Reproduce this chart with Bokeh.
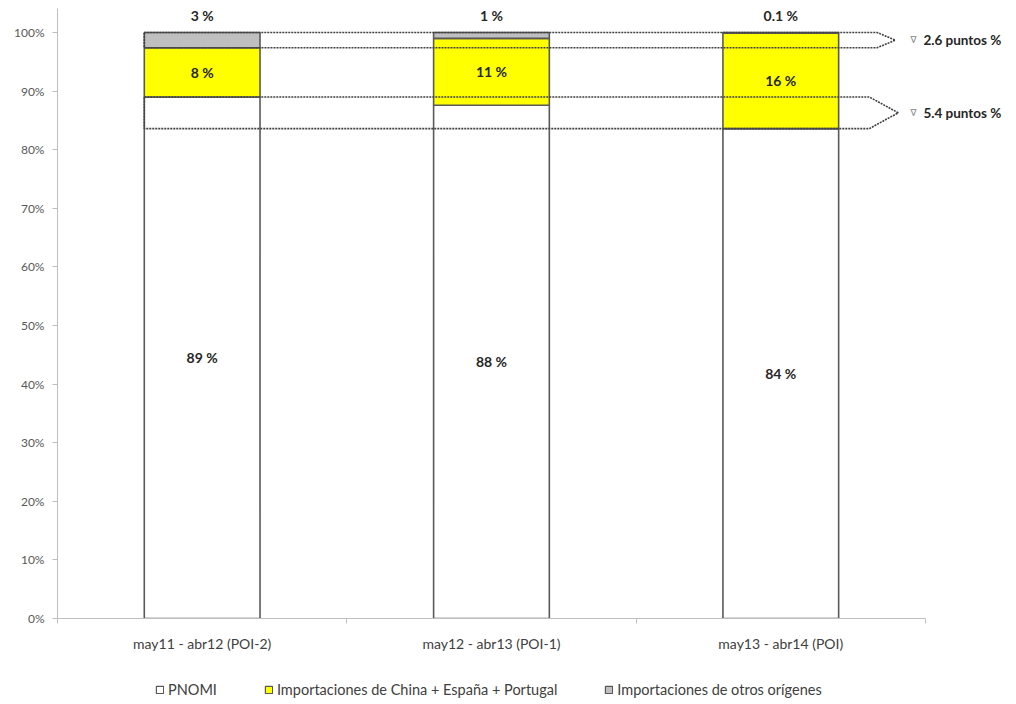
from bokeh.plotting import figure
from bokeh.layouts import column
from bokeh.models import (FixedTicker, Legend, LegendItem, ColumnDataSource, Range1d)
from bokeh.core.properties import value
from bokeh.embed import file_html
from bokeh.resources import INLINE

# ---- data ----
periods = ["may11 - abr12 (POI-2)", "may12 - abr13 (POI-1)", "may13 - abr14 (POI)"]
pnomi = [89.0, 87.6, 83.6]
china = [8.4, 11.4, 16.3]
otros = [2.6, 1.0, 0.1]
pnomi_labels = ["89 %", "88 %", "84 %"]
china_labels = ["8 %", "11 %", "16 %"]
otros_labels = ["3 %", "1 %", "0.1 %"]
series_names = ["PNOMI", "Importaciones de China + España + Portugal",
                "Importaciones de otros orígenes"]
series_colors = ["#FFFFFF", "#FFFF00", "#BFBFBF"]
y_ticks = [0, 10, 20, 30, 40, 50, 60, 70, 80, 90, 100]
y_tick_labels = ["0%", "10%", "20%", "30%", "40%", "50%", "60%", "70%", "80%", "90%", "100%"]
change_values = ["2.6 puntos %", "5.4 puntos  %"]

FONT = "Lato"
xs = [0.5, 1.5, 2.5]
BW = 0.4
EDGE = "#595959"

p = figure(width=1010, height=660, output_backend="svg", toolbar_location=None,
           x_range=Range1d(0, 3.294), y_range=Range1d(0, 104.1),
           min_border_left=57, min_border_right=0, min_border_top=8, min_border_bottom=42)
p.outline_line_color = None
p.xgrid.visible = False
p.ygrid.visible = False

src = ColumnDataSource(dict(x=xs, pnomi=pnomi, china=china, otros=otros))
rs = p.vbar_stack(["pnomi", "china", "otros"], x="x", width=BW, source=src,
                  fill_color=series_colors, line_color=EDGE, line_width=1.6)

# change bands (dotted arrows)
xl = xs[0] - BW / 2
band_top = [pnomi[0] + china[0] + otros[0], pnomi[0]]
band_bot = [pnomi[0] + china[0], pnomi[2]]
flat_end = [2.833, 2.806]
tip = [2.896, 2.906]
pxs, pys = [], []
for i in range(2):
    mid = (band_top[i] + band_bot[i]) / 2
    pxs.append([xl, flat_end[i], tip[i], flat_end[i], xl])
    pys.append([band_top[i], band_top[i], mid, band_bot[i], band_bot[i]])
p.patches(pxs, pys, fill_alpha=0, line_color="#404040", line_width=1.6, line_dash="2 1")

# value labels
lab = ColumnDataSource(dict(
    x=xs * 3,
    y=[v / 2 for v in pnomi] + [a + b / 2 for a, b in zip(pnomi, china)] + [102.9] * 3,
    t=pnomi_labels + china_labels + otros_labels))
p.text("x", "y", text="t", source=lab, text_align="center", text_baseline="middle",
       text_font=value(FONT), text_font_style="bold", text_font_size="14px",
       text_color="#262626")

mids = [(band_top[i] + band_bot[i]) / 2 for i in range(2)]
p.text([2.948, 2.948], mids, text=["\u2207", "\u2207"], text_align="left",
       text_baseline="middle", text_font=value("DejaVu Sans"), text_font_size="9px",
       text_color="#7F7F7F")
p.text([2.993, 2.993], mids, text=change_values, text_align="left",
       text_baseline="middle", text_font=value(FONT), text_font_style="bold",
       text_font_size="13.5px", text_color="#262626")

# axes
xa = p.xaxis[0]
xa.ticker = FixedTicker(ticks=xs, minor_ticks=[0, 1, 2, 3])
xa.major_label_overrides = {x: t for x, t in zip(xs, periods)}
xa.bounds = (0, 3)
xa.axis_line_color = "#BFBFBF"
xa.major_tick_line_color = None
xa.major_tick_out = 0
xa.major_tick_in = 0
xa.minor_tick_line_color = "#BFBFBF"
xa.minor_tick_out = 5
xa.minor_tick_in = 0
xa.major_label_standoff = 11
xa.major_label_text_font = FONT
xa.major_label_text_font_size = "14px"
xa.major_label_text_color = "#404040"

ya = p.yaxis[0]
ya.ticker = FixedTicker(ticks=y_ticks)
ya.major_label_overrides = {v: t for v, t in zip(y_ticks, y_tick_labels)}
ya.axis_line_color = "#BFBFBF"
ya.major_tick_line_color = "#BFBFBF"
ya.major_tick_out = 5
ya.major_tick_in = 0
ya.minor_tick_line_color = None
ya.major_label_text_font = FONT
ya.major_label_text_font_size = "12px"
ya.major_label_text_color = "#595959"
ya.major_label_standoff = 8

# legend strip
p2 = figure(width=1010, height=42, output_backend="svg", toolbar_location=None,
            x_range=Range1d(0, 1), y_range=Range1d(0, 1), min_border=0)
p2.axis.visible = False
p2.grid.visible = False
p2.outline_line_color = None
items = []
for name, col in zip(series_names, series_colors):
    r = p2.vbar(x=[5], top=[-5], bottom=[-5], width=0, fill_color=col,
                line_color=EDGE, line_width=1.2)
    items.append(LegendItem(label=name, renderers=[r]))
legend = Legend(items=items, orientation="horizontal", location=(98, 4), margin=0,
                padding=0, spacing=47, glyph_width=9, glyph_height=9, label_standoff=4,
                label_height=12, label_text_font=FONT, label_text_font_size="14.5px",
                label_text_color="#404040", border_line_color=None,
                background_fill_alpha=0)
p2.add_layout(legend)

open("out.html", "w").write(file_html(column(p, p2, spacing=0), INLINE))
